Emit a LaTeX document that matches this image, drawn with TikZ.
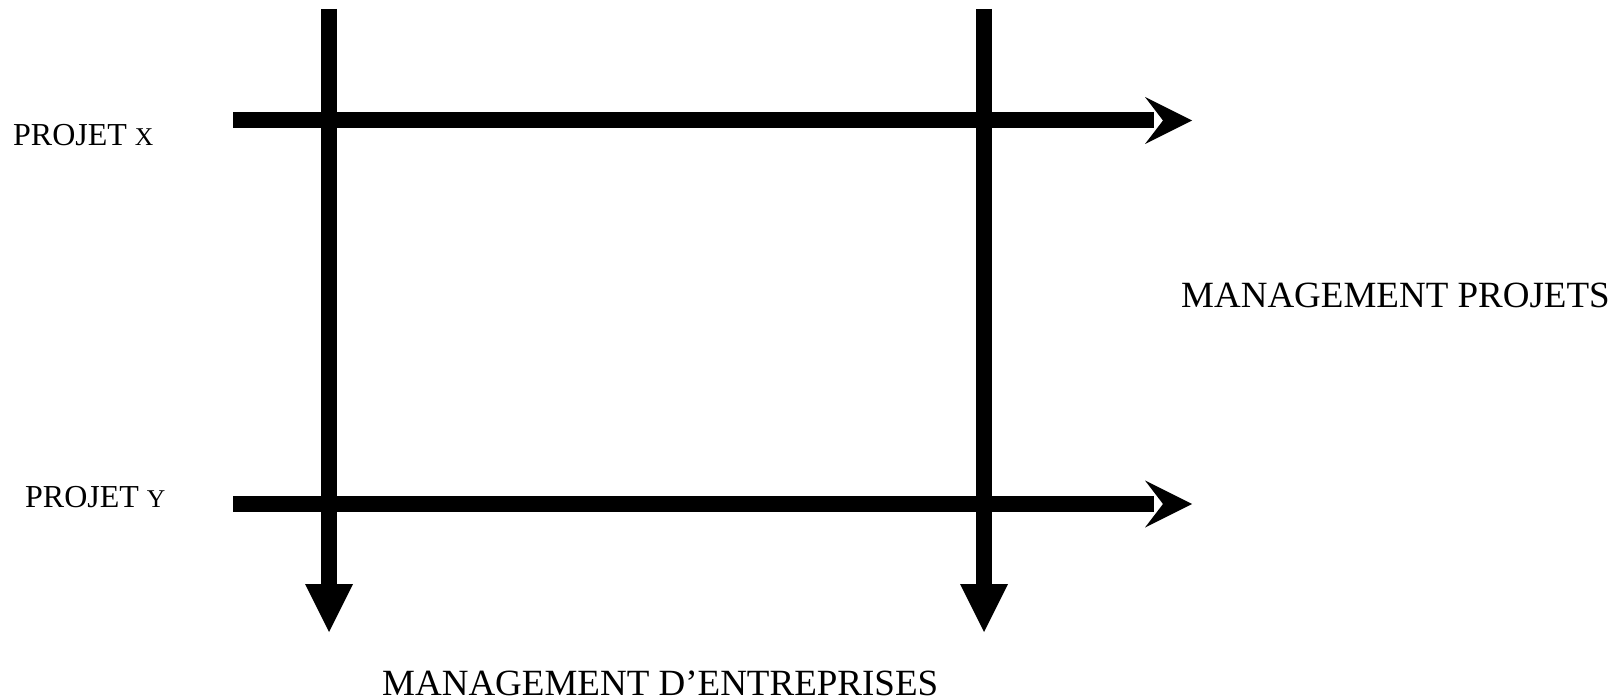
\documentclass[tikz,border=0pt]{standalone}
\usepackage{fontspec}
\setmainfont{Liberation Serif}
\begin{document}
\begin{tikzpicture}[x=1pt,y=-1pt,
  shaft/.style={line width=16pt},
  headfill/.style={fill=black},
  lab/.style={anchor=base west, inner sep=0pt, font=\fontsize{37}{44}\selectfont},
  plab/.style={anchor=base west, inner sep=0pt, font=\fontsize{32}{38}\selectfont}]
\useasboundingbox (0,0) rectangle (1623,700);
\coordinate (v1s) at (329,9);
\coordinate (v1e) at (329,584);
\coordinate (v2s) at (984,9);
\coordinate (v2e) at (984,584);
\coordinate (h1s) at (233,120.5);
\coordinate (h1e) at (1154,120.5);
\coordinate (h2s) at (233,504);
\coordinate (h2e) at (1154,504);
% horizontal project arrows
\draw[shaft] (h1s) -- (h1e);
\fill[headfill, shift={(h1e)}] (-9,-23.5) -- (38,0) -- (-9,23.5) -- (9,0) -- cycle;
\draw[shaft] (h2s) -- (h2e);
\fill[headfill, shift={(h2e)}] (-9,-23.5) -- (38,0) -- (-9,23.5) -- (9,0) -- cycle;
% vertical company arrows
\draw[shaft] (v1s) -- (v1e);
\fill[headfill, shift={(v1e)}] (-24,0) -- (24,0) -- (0,48) -- cycle;
\draw[shaft] (v2s) -- (v2e);
\fill[headfill, shift={(v2e)}] (-24,0) -- (24,0) -- (0,48) -- cycle;
% labels
\node[plab] (px) at (13,146) {PROJET {\fontsize{25.6}{30}\selectfont X}};
\node[plab] (py) at (25,507) {PROJET {\fontsize{25.6}{30}\selectfont Y}};
\node[lab] (mp) at (1181,308) {MANAGEMENT PROJETS};
\node[lab] (me) at (382,695) {MANAGEMENT D’ENTREPRISES};
\end{tikzpicture}
\end{document}
